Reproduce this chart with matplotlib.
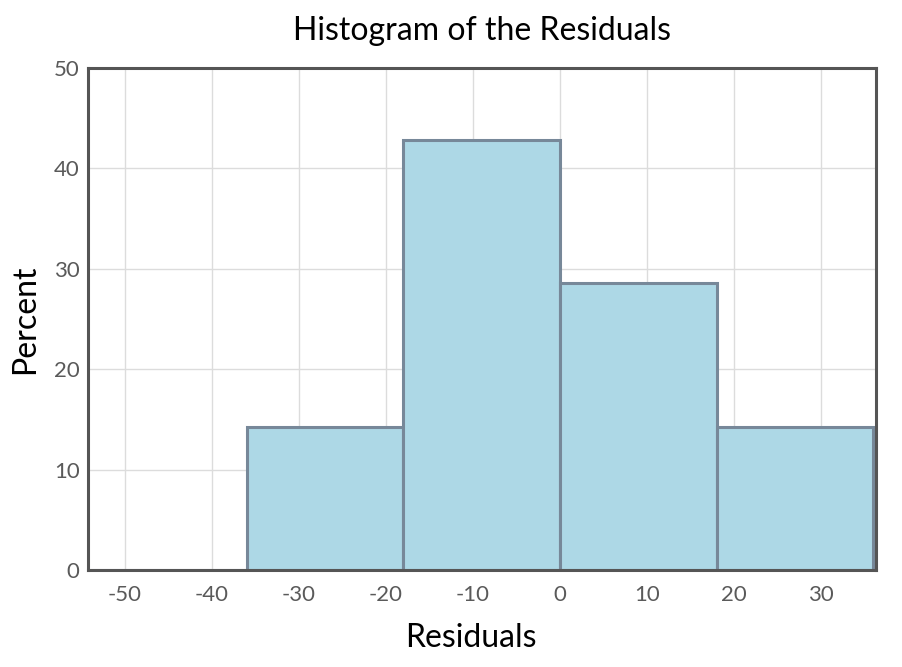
import matplotlib
matplotlib.use("Agg")
import matplotlib.pyplot as plt
import numpy as np

bin_edges = [-54, -36, -18, 0, 18, 36]
percents = [0.0, 14.29, 42.86, 28.57, 14.29]
x_ticks = [-50, -40, -30, -20, -10, 0, 10, 20, 30]
y_ticks = [0, 10, 20, 30, 40, 50]

plt.rcParams['font.family'] = ['Lato', 'DejaVu Sans']
plt.rcParams['axes.unicode_minus'] = False

fig = plt.figure(figsize=(9.02, 6.67), dpi=100)
ax = fig.add_axes([88/902, (667-570)/667, (876-88)/902, (570-68)/667])

lefts = np.array(bin_edges[:-1], dtype=float)
widths = np.diff(bin_edges)
ax.bar(lefts, percents, width=widths, align='edge', color='#ADD8E6',
       edgecolor='#778899', linewidth=2.2, zorder=3)

ax.set_xlim(-54.25, 36.3)
ax.set_ylim(0, 50)
ax.set_xticks(x_ticks)
ax.set_yticks(y_ticks)
ax.grid(True, color='#dcdcdc', linewidth=1.0, zorder=0)
ax.set_axisbelow(True)
for s in ax.spines.values():
    s.set_color('#555555')
    s.set_linewidth(2.2)
    s.set_zorder(4)
ax.tick_params(axis='x', length=0, pad=11, labelsize=16, labelcolor='#5a5a5a')
ax.tick_params(axis='y', length=0, pad=6, labelsize=16, labelcolor='#5a5a5a')

ax.set_xlabel('Residuals', fontsize=23, color='black')
ax.xaxis.set_label_coords(0.4865, -0.135, transform=ax.transAxes)
ax.xaxis.label.set_va('center')
ax.set_ylabel('Percent', fontsize=23, color='black', labelpad=10)
ax.set_title('Histogram of the Residuals', fontsize=23, color='black', pad=20)

fig.savefig('out.png', dpi=100)
